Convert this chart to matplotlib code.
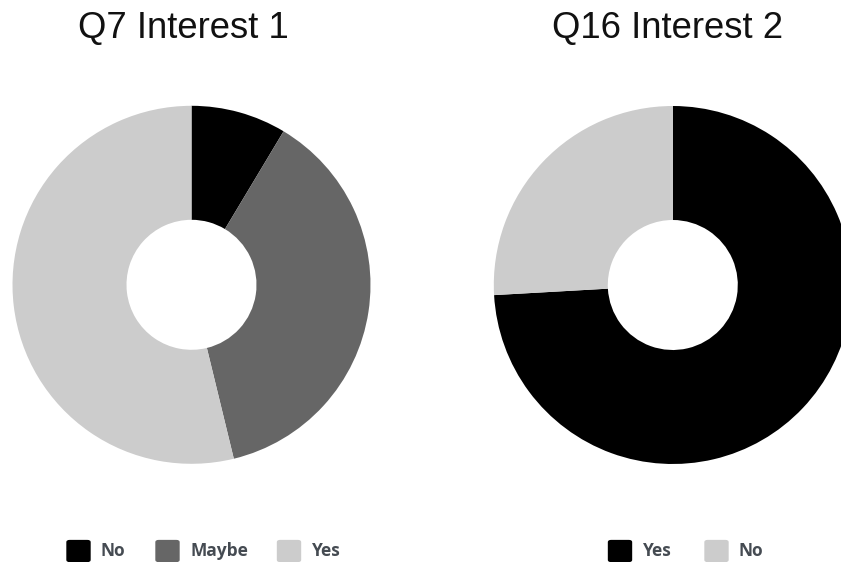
import matplotlib
matplotlib.use("Agg")
import matplotlib.pyplot as plt
from matplotlib.patches import FancyBboxPatch

W, H = 841, 562

titles = ["Q7 Interest 1", "Q16 Interest 2"]
labels_1 = ["No", "Maybe", "Yes"]
values_1 = [8.6, 37.6, 53.8]
colors_1 = ["#000000", "#666666", "#cccccc"]
labels_2 = ["Yes", "No"]
values_2 = [74.1, 25.9]
colors_2 = ["#000000", "#cccccc"]

fig = plt.figure(figsize=(W / 100, H / 100), dpi=100)


def px_axes(cx, cy, r):
    # axes box in pixel coords (top-left origin)
    return fig.add_axes([(cx - r) / W, (H - cy - r) / H, 2 * r / W, 2 * r / H])


def donut(cx, cy, vals, cols):
    ax = px_axes(cx, cy, 179)
    ax.pie(vals, colors=cols, startangle=90, counterclock=False, radius=1,
           wedgeprops=dict(width=1 - 65 / 179, linewidth=0))
    ax.set_xlim(-1, 1)
    ax.set_ylim(-1, 1)
    ax.set_aspect("equal")
    ax.axis("off")


donut(191.5, 284.8, values_1, colors_1)
donut(672.8, 285, values_2, colors_2)

fig.text(183 / W, 1 - 38 / H, titles[0], ha="center", va="baseline",
         fontsize=26.3, family="Liberation Sans", color="#111111")
fig.text(668 / W, 1 - 38 / H, titles[1], ha="center", va="baseline",
         fontsize=26.3, family="Liberation Sans", color="#111111")


def legend(items, x_positions):
    for (lab, col), x in zip(items, x_positions):
        box = FancyBboxPatch((x / W, 1 - 561 / H), 21 / W, 20 / H,
                             boxstyle="round,pad=0.002,rounding_size=0.004",
                             transform=fig.transFigure, facecolor=col,
                             edgecolor="none")
        fig.add_artist(box)
        fig.text((x + 33) / W, 1 - 556 / H, lab, ha="left", va="baseline",
                 fontsize=12.5, family="Open Sans", fontweight="bold",
                 color="#454b52")


legend(zip(labels_1, colors_1), [68, 157, 278.5])
legend(zip(labels_2, colors_2), [609.5, 706])

fig.savefig("out.png", dpi=100, facecolor="white")
